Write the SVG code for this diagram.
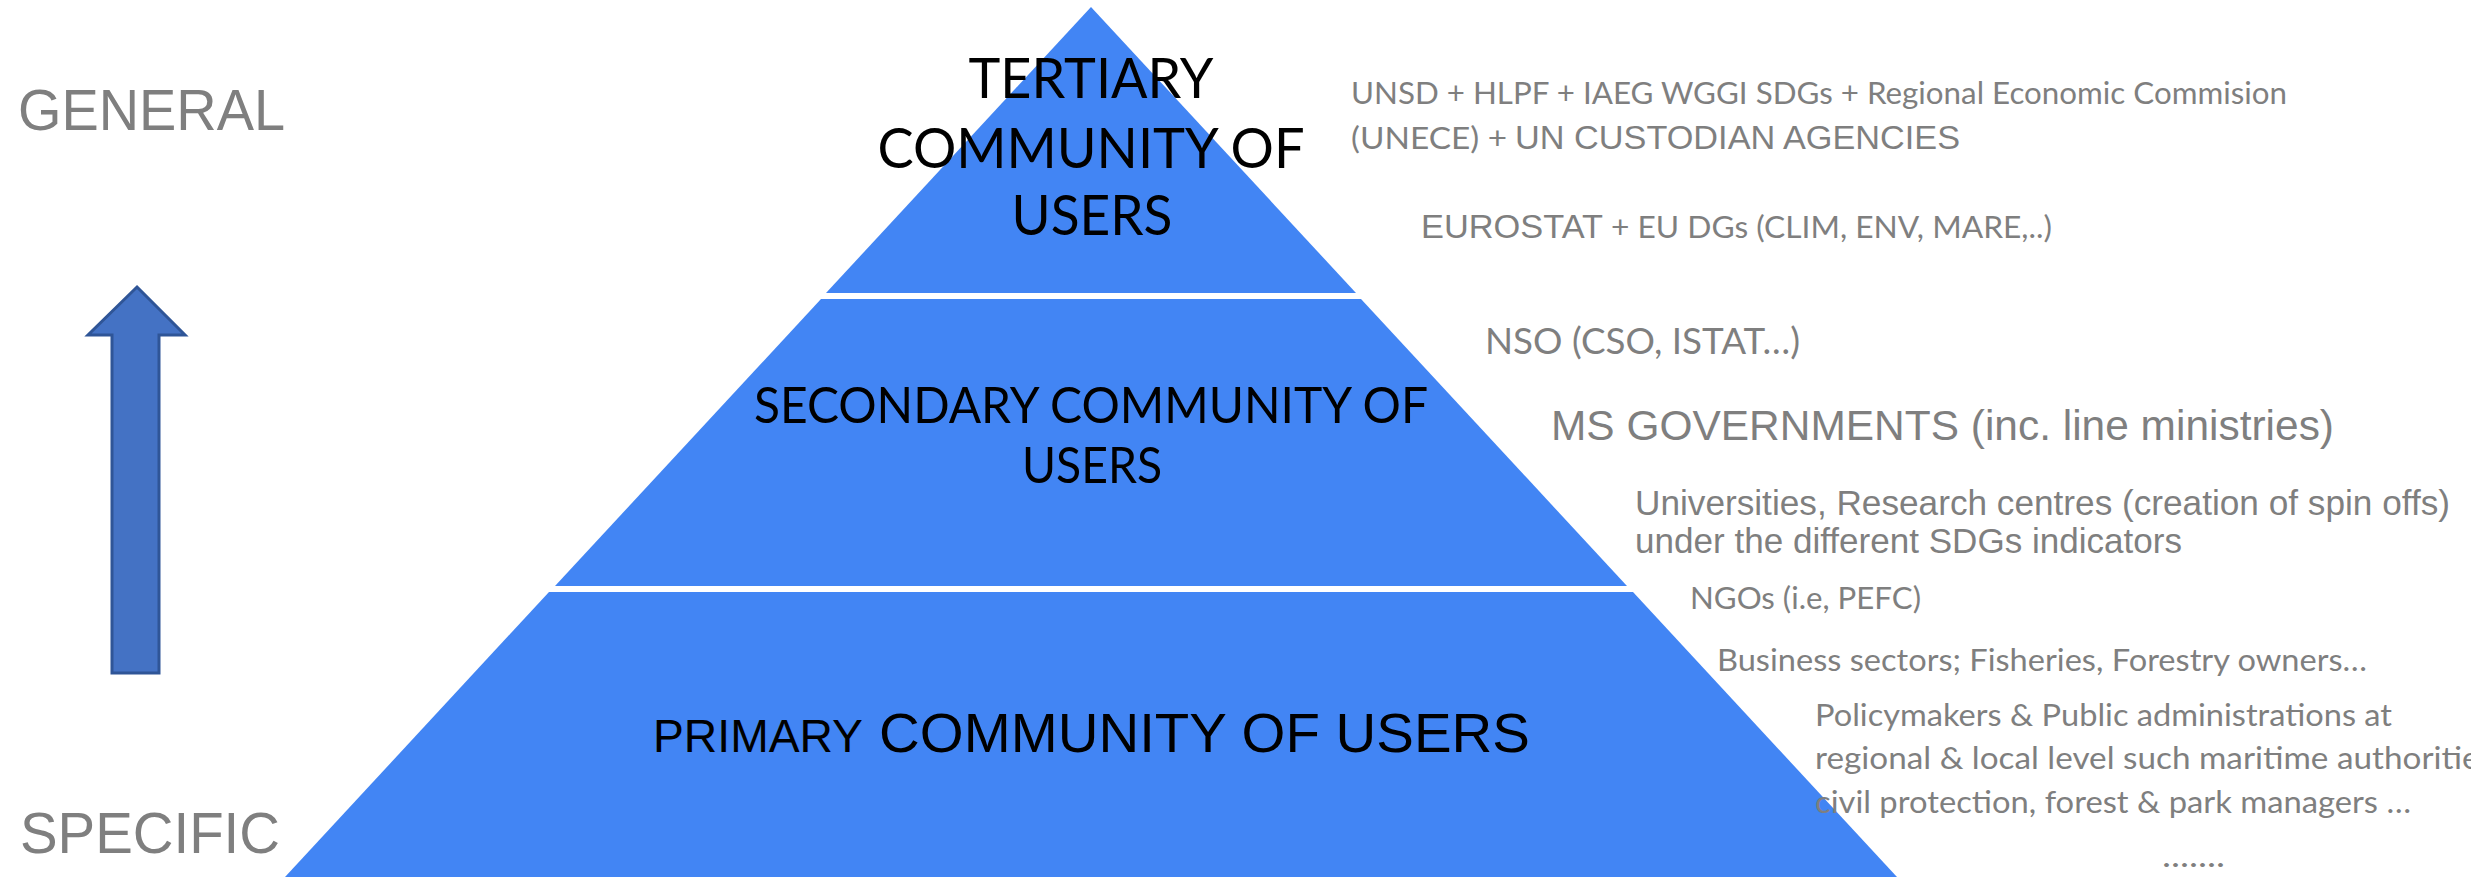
<svg xmlns="http://www.w3.org/2000/svg" width="2471" height="877" viewBox="0 0 2471 877">
  <style>
    .tier { fill: #4285f4; }
    .cal { font-family: Lato, "Open Sans", "Noto Sans", sans-serif; }
    .ar { font-family: "Liberation Sans", Arial, sans-serif; }
    .gray { fill: #7f7f7f; }
    .dark { fill: #000000; }
    .mid { text-anchor: middle; }
  </style>

  <rect x="0" y="0" width="2471" height="877" fill="#ffffff"/>

  <!-- scale axis: general (top) to specific (bottom) -->
  <g id="axis">
    <text class="ar gray" x="18" y="130" font-size="57" textLength="267" lengthAdjust="spacingAndGlyphs">GENERAL</text>
    <text class="ar gray" x="20" y="853" font-size="57" textLength="260" lengthAdjust="spacingAndGlyphs">SPECIFIC</text>
  </g>
  <g id="scale-arrow">
    <polygon points="137,287 185,335 159,335 159,673 112,673 112,335 88,335" fill="#4472c4" stroke="#2f5597" stroke-width="3" stroke-linejoin="miter"/>
  </g>

  <!-- pyramid tiers -->
  <g id="tier-tertiary">
    <polygon class="tier" points="1091,7 1356,293 826,293"/>
    <text class="cal dark mid" x="1091" y="98" font-size="57" textLength="245" lengthAdjust="spacingAndGlyphs">TERTIARY</text>
    <text class="cal dark mid" x="1091" y="168" font-size="57" textLength="427" lengthAdjust="spacingAndGlyphs">COMMUNITY OF</text>
    <text class="cal dark mid" x="1092" y="235" font-size="57" textLength="161" lengthAdjust="spacingAndGlyphs">USERS</text>
  </g>

  <g id="tier-secondary">
    <polygon class="tier" points="821,299 1361,299 1627,586 555,586"/>
    <text class="cal dark mid" x="1091" y="423" font-size="50.5" textLength="674" lengthAdjust="spacingAndGlyphs">SECONDARY COMMUNITY OF</text>
    <text class="cal dark mid" x="1092" y="483" font-size="50.5" textLength="140" lengthAdjust="spacingAndGlyphs">USERS</text>
  </g>

  <g id="tier-primary">
    <polygon class="tier" points="549,592 1633,592 1897,877 285,877"/>
    <text class="ar dark" y="752"><tspan x="653" font-size="46" textLength="210" lengthAdjust="spacingAndGlyphs">PRIMARY</tspan><tspan x="879" font-size="55" textLength="651" lengthAdjust="spacingAndGlyphs">COMMUNITY OF USERS</tspan></text>
  </g>

  <!-- user groups listed beside each tier -->
  <g id="users-tertiary">
    <text class="cal gray" x="1351" y="104" font-size="31.5" textLength="936" lengthAdjust="spacingAndGlyphs">UNSD + HLPF + IAEG WGGI SDGs + Regional Economic Commision</text>
    <text class="gray" y="149"><tspan class="cal" x="1351" font-size="31.5" textLength="156" lengthAdjust="spacingAndGlyphs">(UNECE) +</tspan><tspan class="ar" x="1515" font-size="34" textLength="445" lengthAdjust="spacingAndGlyphs">UN CUSTODIAN AGENCIES</tspan></text>
    <text class="gray" y="238"><tspan class="ar" x="1421" font-size="33.4" textLength="182" lengthAdjust="spacingAndGlyphs">EUROSTAT</tspan><tspan class="cal" x="1611" font-size="31.2" textLength="441" lengthAdjust="spacingAndGlyphs">+ EU DGs (CLIM, ENV, MARE,..)</tspan></text>
  </g>

  <g id="users-secondary">
    <text class="cal gray" x="1485" y="354" font-size="37" textLength="315" lengthAdjust="spacingAndGlyphs">NSO (CSO, ISTAT…)</text>
    <text class="ar gray" x="1551" y="440" font-size="42.4" textLength="783" lengthAdjust="spacingAndGlyphs">MS GOVERNMENTS (inc. line ministries)</text>
    <text class="ar gray" x="1635" y="515" font-size="35.2" textLength="815" lengthAdjust="spacingAndGlyphs">Universities, Research centres (creation of spin offs)</text>
    <text class="ar gray" x="1635" y="553" font-size="35.2" textLength="547" lengthAdjust="spacingAndGlyphs">under the different SDGs indicators</text>
  </g>

  <g id="users-primary">
    <text class="cal gray" x="1690" y="609" font-size="31.5" textLength="231" lengthAdjust="spacingAndGlyphs">NGOs (i.e, PEFC)</text>
    <text class="cal gray" x="1717" y="671" font-size="31.5" textLength="650" lengthAdjust="spacingAndGlyphs">Business sectors; Fisheries, Forestry owners…</text>
    <text class="cal gray" x="1815" y="726" font-size="31.5" textLength="577" lengthAdjust="spacingAndGlyphs">Policymakers &amp; Public administrations at</text>
    <text class="cal gray" x="1815" y="769" font-size="31.5" textLength="679" lengthAdjust="spacingAndGlyphs">regional &amp; local level such maritime authorities</text>
    <text class="cal gray" x="1815" y="813" font-size="31.5" textLength="596" lengthAdjust="spacingAndGlyphs">civil protection, forest &amp; park managers …</text>
    <text class="cal gray" x="2162" y="867" font-size="31.5" textLength="63" lengthAdjust="spacingAndGlyphs">.......</text>
  </g>
</svg>
